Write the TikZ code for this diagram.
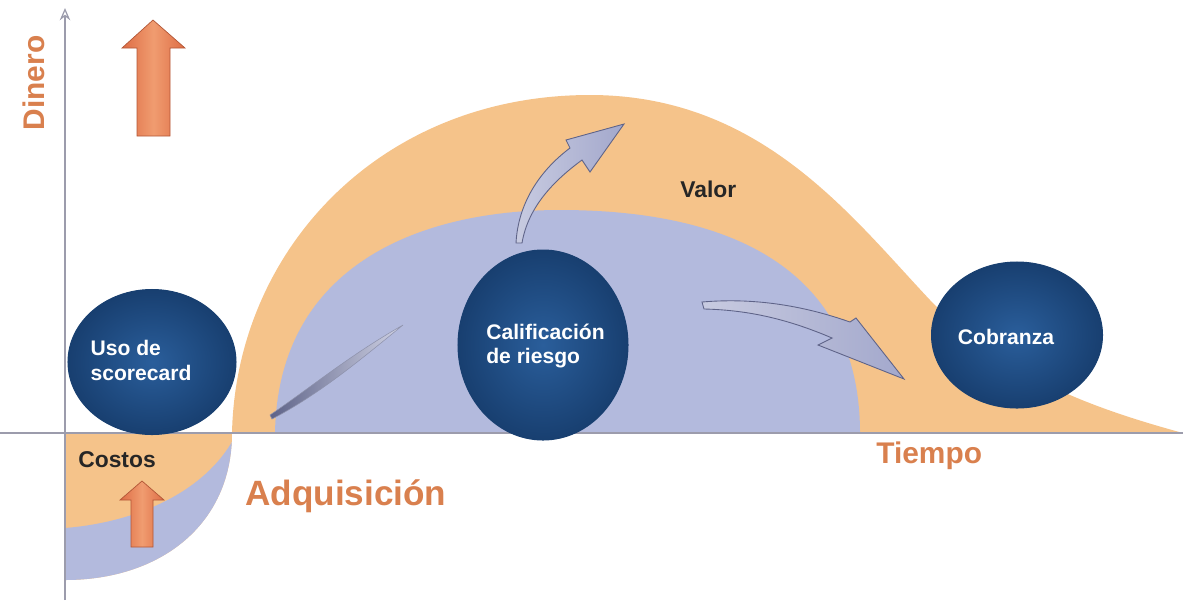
\documentclass[tikz,border=0pt]{standalone}
\usepackage{fontspec}
\setmainfont{Liberation Sans}
\usetikzlibrary{shapes.geometric,arrows.meta}
\definecolor{peach}{HTML}{F5C38A}
\definecolor{lav}{HTML}{B3BADD}
\definecolor{navyin}{HTML}{2A5E9B}
\definecolor{navyout}{HTML}{183F70}
\definecolor{labelor}{HTML}{D9804E}
\definecolor{arrowor}{HTML}{DE6D45}
\definecolor{arrowlt}{HTML}{F09C70}
\definecolor{axisgray}{HTML}{9C9CAC}
\definecolor{swoosh}{HTML}{A3A8CC}
\definecolor{swooshdk}{HTML}{5E6388}
\tikzset{
  stage/.style={ellipse, inner sep=0pt, draw=navyout, line width=0.6pt,
    inner color=navyin, outer color=navyout},
  stagetext/.style={text=white, font=\fontsize{12}{14.2}\selectfont\bfseries, align=left, inner sep=0pt},
  axisline/.style={draw=axisgray, line width=0.7pt},
  bigtitle/.style={text=labelor, font=\bfseries, inner sep=0pt},
  darklabel/.style={text=black!85, font=\fontsize{13}{15}\selectfont\bfseries, inner sep=0pt},
  uparrow/.style={left color=arrowor, right color=arrowor, middle color=arrowlt, draw=arrowor!80!black, line width=0.4pt},
  swooshfill/.style={left color=swoosh!60!white, right color=swoosh, draw=swooshdk, line width=0.5pt},
  streak/.style={left color=swooshdk, right color=swoosh!50!white, draw=swooshdk!70, line width=0.3pt},
}
\begin{document}
\begin{tikzpicture}[x=0.02cm, y=-0.02cm]
\useasboundingbox (0,0) rectangle (1183,603);
% value area
\fill[peach] (232,433) .. controls (236,250) and (380,95) .. (590,95)
  .. controls (760,95) and (850,215) .. (930,300)
  .. controls (1000,372) and (1080,405) .. (1183,433) -- cycle;
\fill[lav] (275,433) .. controls (278,265) and (420,210) .. (560,210)
  .. controls (760,210) and (860,290) .. (860,433) -- cycle;
% cost area
\begin{scope}
  \clip (65,433) -- (232,433) .. controls (232,525) and (160,580) .. (65,580) -- cycle;
  \fill[peach] (60,430) rectangle (240,600);
  \fill[lav] (65,528) .. controls (140,522) and (205,490) .. (233,440) -- (240,600) -- (60,600) -- cycle;
\end{scope}
% axes
\coordinate (yfoot) at (65,600);
\coordinate (ytop) at (65,8);
\coordinate (xleft) at (0,433);
\coordinate (xright) at (1183,433);
\draw[axisline, -{Stealth[open, length=7pt, width=6pt]}] (yfoot) -- (ytop);
\draw[axisline] (xleft) -- (xright);
% big arrows
\path[uparrow] (137,136) -- (137,48) -- (122,48) -- (153,20) -- (185,48) -- (170,48) -- (170,136) -- cycle;
\path[uparrow] (131,547) -- (131,500) -- (120,500) -- (142,481) -- (164,500) -- (153,500) -- (153,547) -- cycle;
% swooshes
\path[streak] (270,415) .. controls (310,388) and (350,355) .. (403,325)
  .. controls (365,356) and (320,394) .. (272,419) -- cycle;
\path[swooshfill] (516,243) .. controls (518,205) and (538,172) .. (570,148)
  -- (566,140) -- (624,124) -- (590,172) -- (582,160)
  .. controls (552,182) and (528,208) .. (522,243) -- cycle;
\path[swooshfill] (702,302) .. controls (760,297) and (810,308) .. (850,322)
  -- (856,318) -- (904,379) -- (818,345) -- (832,338)
  .. controls (790,320) and (750,310) .. (704,309) -- cycle;
% stages
\node[stage, minimum width=3.36cm, minimum height=2.9cm,
  label={[stagetext, xshift=-0.22cm, yshift=0.04cm]center:{Uso de\\scorecard}}] (score) at (152,362) {};
\node[stage, minimum width=3.4cm, minimum height=3.8cm,
  label={[stagetext, xshift=0.05cm, yshift=-0.02cm]center:{Calificación\\de riesgo}}] (risk) at (543,345) {};
\node[stage, minimum width=3.42cm, minimum height=2.92cm,
  label={[stagetext, xshift=-0.22cm, yshift=-0.04cm]center:{Cobranza}}] (cob) at (1017,335) {};
% labels
\node[bigtitle, font=\fontsize{17}{17}\selectfont\bfseries, rotate=90, anchor=base] (dinero) at (44,83) {Dinero};
\node[bigtitle, font=\fontsize{20}{20}\selectfont\bfseries, anchor=base west] (adq) at (245,505) {Adquisición};
\node[bigtitle, font=\fontsize{17}{17}\selectfont\bfseries, anchor=base west] (tiempo) at (876,463) {Tiempo};
\node[darklabel, anchor=base west] (costos) at (78,467) {Costos};
\node[darklabel, anchor=base west] (valor) at (680,197) {Valor};
\end{tikzpicture}
\end{document}
